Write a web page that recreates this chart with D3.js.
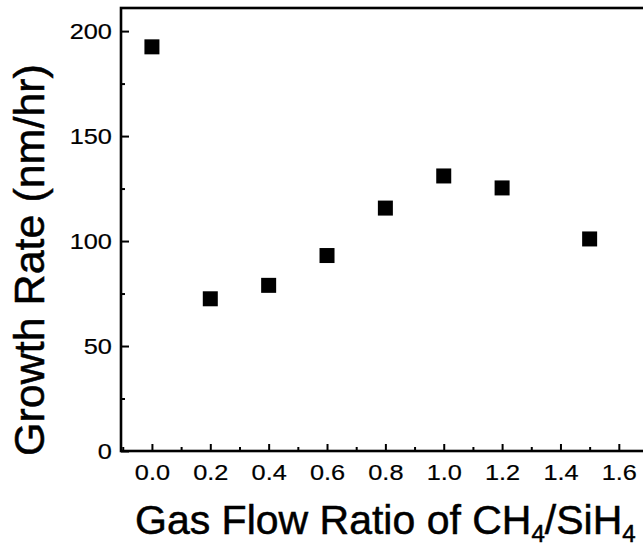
<!DOCTYPE html>
<html>
<head>
<meta charset="utf-8">
<script src="https://cdn.jsdelivr.net/npm/d3@7"></script>
<style>
  html, body { margin: 0; padding: 0; background: #fff; }
  svg { display: block; }
  text { font-family: "Liberation Sans", Arial, sans-serif; fill: #000; }
</style>
</head>
<body>
<svg id="chart" width="643" height="549"></svg>
<script>
// ---- data ----
const ratios = [0.0, 0.2, 0.4, 0.6, 0.8, 1.0, 1.2, 1.5];
const growthRates = [192.5, 72.5, 78.9, 93.1, 115.7, 131.0, 125.3, 101.0];
const xTickValues = [0.0, 0.2, 0.4, 0.6, 0.8, 1.0, 1.2, 1.4, 1.6];
const xMinorTicks = [-0.1, 0.1, 0.3, 0.5, 0.7, 0.9, 1.1, 1.3, 1.5];
const yTickValues = [0, 50, 100, 150, 200];
const yMinorTicks = [25, 75, 125, 175];
const xTitle = "Gas Flow Ratio of CH";
const yTitle = "Growth Rate (nm/hr)";

// ---- layout ----
const svg = d3.select("#chart");
const x = d3.scaleLinear().domain([-0.106, 1.7]).range([121, 648]);
const y = d3.scaleLinear().domain([0, 211]).range([451, 8]);

const g = svg.append("g");

// frame: top, left, bottom (right is off-canvas)
g.append("rect")
  .attr("x", x.range()[0]).attr("y", y.range()[1])
  .attr("width", x.range()[1] - x.range()[0])
  .attr("height", y.range()[0] - y.range()[1])
  .attr("fill", "none").attr("stroke", "#000").attr("stroke-width", 2.6);

// x axis (ticks inward)
const xAxis = d3.axisBottom(x).tickValues(xTickValues)
  .tickFormat(d3.format(".1f")).tickSize(-7).tickPadding(13);
const xa = g.append("g").attr("transform", `translate(0,${y(0)})`).call(xAxis);
xa.select(".domain").remove();
xa.selectAll(".tick line").attr("stroke", "#000").attr("stroke-width", 2);
xa.selectAll(".tick text").attr("font-size", 22).attr("fill", "#000")
  .attr("stroke", "#000").attr("stroke-width", 0.2)
  .attr("font-family", "Liberation Sans, Arial, sans-serif")
  .attr("transform", "scale(1.15,1)")
  .attr("x", 0);

const xm = g.append("g").attr("transform", `translate(0,${y(0)})`)
  .call(d3.axisBottom(x).tickValues(xMinorTicks).tickSize(-4).tickFormat(""));
xm.select(".domain").remove();
xm.selectAll(".tick line").attr("stroke", "#000").attr("stroke-width", 2);

// y axis (ticks inward)
const yAxis = d3.axisLeft(y).tickValues(yTickValues).tickSize(-8).tickPadding(0);
const ya = g.append("g").attr("transform", `translate(${x.range()[0]},0)`).call(yAxis);
ya.select(".domain").remove();
ya.selectAll(".tick line").attr("stroke", "#000").attr("stroke-width", 2);
ya.selectAll(".tick text").attr("font-size", 22).attr("fill", "#000")
  .attr("stroke", "#000").attr("stroke-width", 0.2)
  .attr("font-family", "Liberation Sans, Arial, sans-serif")
  .attr("x", -8)
  .attr("transform", "scale(1.15,1)");

const ym = g.append("g").attr("transform", `translate(${x.range()[0]},0)`)
  .call(d3.axisLeft(y).tickValues(yMinorTicks).tickSize(-4).tickFormat(""));
ym.select(".domain").remove();
ym.selectAll(".tick line").attr("stroke", "#000").attr("stroke-width", 2);

// data squares
const sz = 15;
g.selectAll("rect.pt").data(ratios).enter().append("rect")
  .attr("class", "pt")
  .attr("x", (d) => x(d) - sz / 2)
  .attr("y", (d, i) => y(growthRates[i]) - sz / 2)
  .attr("width", sz).attr("height", sz)
  .attr("fill", "#000");

// x title with subscripts
const xt = svg.append("text")
  .attr("x", 135).attr("y", 534)
  .attr("font-size", 41)
  .attr("stroke", "#000").attr("stroke-width", 0.5);
xt.append("tspan").text(xTitle);
xt.append("tspan").attr("font-size", 24).attr("dy", 8).text("4");
xt.append("tspan").attr("dy", -8).text("/SiH");
xt.append("tspan").attr("font-size", 24).attr("dy", 8).text("4");

// y title
svg.append("text")
  .attr("transform", "translate(44,260) rotate(-90)")
  .attr("text-anchor", "middle")
  .attr("font-size", 43)
  .attr("stroke", "#000").attr("stroke-width", 0.5)
  .text(yTitle);
</script>
</body>
</html>
